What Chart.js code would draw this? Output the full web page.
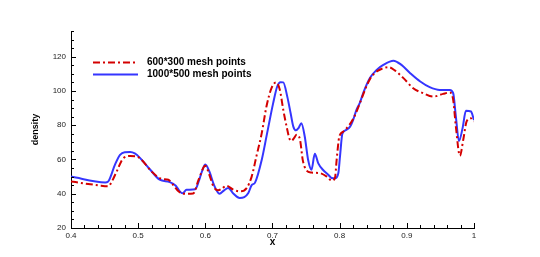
<!DOCTYPE html>
<html>
<head>
<meta charset="utf-8">
<script src="https://cdn.jsdelivr.net/npm/chart.js"></script>
<style>
  html, body { margin: 0; padding: 0; background: #fff; }
  #wrap { width: 540px; height: 257px; position: relative; }
</style>
</head>
<body>
<div id="wrap"><canvas id="c"></canvas></div>
<script>
// valores
const xCoarse = [0.400, 0.420, 0.440, 0.455, 0.458, 0.468, 0.478, 0.488, 0.498, 0.505, 0.520, 0.535, 0.545, 0.552, 0.560, 0.567, 0.582, 0.590, 0.600, 0.606, 0.612, 0.619, 0.625, 0.631, 0.642, 0.652, 0.6615, 0.669, 0.676, 0.684, 0.691, 0.6985, 0.705, 0.711, 0.716, 0.721, 0.726, 0.7285, 0.732, 0.736, 0.741, 0.745, 0.750, 0.758, 0.771, 0.781, 0.788, 0.793, 0.7955, 0.7995, 0.8055, 0.820, 0.845, 0.855, 0.865, 0.8725, 0.8825, 0.895, 0.9095, 0.9245, 0.9395, 0.954, 0.964, 0.969, 0.973, 0.979, 0.984, 0.989, 0.995, 1.0];
const yCoarse = [47.2, 46, 45, 44.3, 45.2, 53, 60.8, 62, 61.8, 59.8, 53, 48.7, 48.2, 45.2, 41.4, 40, 40.2, 48.2, 56.3, 51, 44.3, 42, 43, 44.7, 42.3, 41.4, 43.3, 50, 61.8, 75.4, 90.9, 101.6, 104.9, 100.6, 89, 79.2, 71.5, 70.9, 72.5, 74.4, 71.5, 59.8, 54, 52.4, 52, 50, 47.7, 49.2, 59.8, 73.4, 76.3, 83.6, 106.9, 111.3, 113.3, 113.9, 111.9, 107.5, 101.6, 98.7, 96.7, 98.3, 99.1, 94.8, 79.2, 62.2, 71.5, 82.2, 84.1, 82.2];

const xFine = [0.400, 0.451, 0.455, 0.4655, 0.473, 0.480, 0.488, 0.495, 0.503, 0.518, 0.532, 0.547, 0.556, 0.562, 0.566, 0.572, 0.585, 0.590, 0.595, 0.600, 0.606, 0.613, 0.621, 0.628, 0.634, 0.642, 0.651, 0.658, 0.664, 0.669, 0.674, 0.684, 0.692, 0.701, 0.707, 0.712, 0.716, 0.722, 0.727, 0.731, 0.735, 0.739, 0.743, 0.748, 0.753, 0.758, 0.763, 0.768, 0.775, 0.783, 0.788, 0.793, 0.798, 0.8005, 0.804, 0.810, 0.8155, 0.820, 0.825, 0.830, 0.835, 0.845, 0.855, 0.865, 0.880, 0.892, 0.905, 0.920, 0.934, 0.949, 0.964, 0.969, 0.973, 0.9776, 0.983, 0.988, 0.9955, 1.0];
const yFine = [50.0, 46.6, 47.0, 57, 62.7, 64.2, 64.3, 63.5, 60.8, 54, 48.2, 46.8, 44.7, 41.4, 40.3, 42.3, 42.6, 47, 53, 57, 53, 45, 40, 42, 43.3, 40, 37.5, 38, 40.4, 45, 46.5, 59.8, 75.4, 92.9, 102.6, 105.1, 105, 96.7, 87, 79.2, 77, 78.5, 81.2, 73.4, 59.8, 54, 63.3, 57.9, 54, 51.1, 49.2, 49, 52, 61.8, 75, 77.3, 79.2, 83, 89, 93, 98.7, 107.5, 112.3, 115.2, 117.7, 115.2, 110.4, 105.5, 102.2, 100.6, 100.6, 98.7, 85, 70.8, 78.3, 88.4, 88, 83];

const seriesNames = ['600*300 mesh points', '1000*500 mesh points'];
const xTickLabels = [0.4, 0.5, 0.6, 0.7, 0.8, 0.9, 1];
const yTickLabels = [20, 40, 60, 80, 100, 120];

const RED = '#d40000';
const BLUE = '#3535ff';
const FONT = 'Liberation Sans, Arial, Helvetica, sans-serif';

function toPts(xs, ys) { return xs.map((x, i) => ({ x, y: ys[i] })); }

// ticks hacia dentro, mayores y menores
const innerTicks = {
  id: 'innerTicks',
  afterDraw(chart) {
    const ctx = chart.ctx;
    const xs = chart.scales.x, ys = chart.scales.y;
    ctx.save();
    ctx.strokeStyle = '#000';
    ctx.lineWidth = 1;
    ctx.beginPath();
    for (let i = 0; i <= 30; i++) {
      const v = 0.4 + i * 0.02;
      const px = Math.round(xs.getPixelForValue(v)) + 0.5;
      const len = i % 5 === 0 ? 5 : 3;
      ctx.moveTo(px, ys.bottom);
      ctx.lineTo(px, ys.bottom - len);
    }
    for (let v = 20; v <= 135; v += 5) {
      const py = Math.round(ys.getPixelForValue(v)) + 0.5;
      const len = v % 20 === 0 ? 5 : 3;
      ctx.moveTo(xs.left, py);
      ctx.lineTo(xs.left + len, py);
    }
    ctx.stroke();
    ctx.restore();
  }
};

// leyenda dentro del área
const boxLegend = {
  id: 'boxLegend',
  afterDraw(chart) {
    const ctx = chart.ctx;
    ctx.save();
    const rows = [
      { y: 62.5, color: RED, dash: [7, 3, 2, 3] },
      { y: 74.5, color: BLUE, dash: [] }
    ];
    rows.forEach((r, i) => {
      ctx.strokeStyle = r.color;
      ctx.lineWidth = 2;
      ctx.setLineDash(r.dash);
      ctx.beginPath();
      ctx.moveTo(93, r.y);
      ctx.lineTo(138, r.y);
      ctx.stroke();
      ctx.setLineDash([]);
      ctx.fillStyle = '#000';
      ctx.font = 'bold 10px ' + FONT;
      ctx.textBaseline = 'middle';
      ctx.textAlign = 'left';
      ctx.fillText(seriesNames[i], 147, r.y);
    });
    ctx.restore();
  }
};

new Chart(document.getElementById('c'), {
  type: 'line',
  data: {
    datasets: [
      {
        label: seriesNames[0],
        data: toPts(xCoarse, yCoarse),
        borderColor: RED,
        borderWidth: 2,
        borderDash: [7, 3, 2, 3],
        pointRadius: 0,
        cubicInterpolationMode: 'monotone',
        fill: false
      },
      {
        label: seriesNames[1],
        data: toPts(xFine, yFine),
        borderColor: BLUE,
        borderWidth: 2,
        pointRadius: 0,
        cubicInterpolationMode: 'monotone',
        fill: false
      }
    ]
  },
  options: {
    responsive: true,
    maintainAspectRatio: false,
    animation: false,
    layout: { padding: { top: 31, right: 66, bottom: 0, left: 0 } },
    plugins: { legend: { display: false }, tooltip: { enabled: false } },
    scales: {
      x: {
        type: 'linear',
        min: 0.4,
        max: 1.0,
        afterFit: (s) => { s.height = 29; },
        afterBuildTicks: (s) => { s.ticks = xTickLabels.map(v => ({ value: v })); },
        grid: { display: false, drawTicks: false },
        border: { display: true, color: '#000', width: 1 },
        ticks: {
          padding: 3,
          maxRotation: 0,
          autoSkip: false,
          color: '#222',
          font: { family: FONT, size: 8 },
          callback: (v) => String(+v.toFixed(1))
        },
        title: {
          display: true,
          text: 'x',
          color: '#000',
          font: { family: FONT, size: 10, weight: 'bold' },
          padding: { top: 0, bottom: 8.5 }
        }
      },
      y: {
        min: 20,
        max: 135,
        afterFit: (s) => { s.width = 71; },
        afterBuildTicks: (s) => { s.ticks = yTickLabels.map(v => ({ value: v })); },
        grid: { display: false, drawTicks: false },
        border: { display: true, color: '#000', width: 1 },
        ticks: {
          padding: 5,
          autoSkip: false,
          color: '#222',
          font: { family: FONT, size: 8 }
        },
        title: {
          display: true,
          text: 'density',
          color: '#000',
          font: { family: FONT, size: 9, weight: 'bold' },
          padding: { top: 30, bottom: 0 }
        }
      }
    }
  },
  plugins: [innerTicks, boxLegend]
});
</script>
</body>
</html>
